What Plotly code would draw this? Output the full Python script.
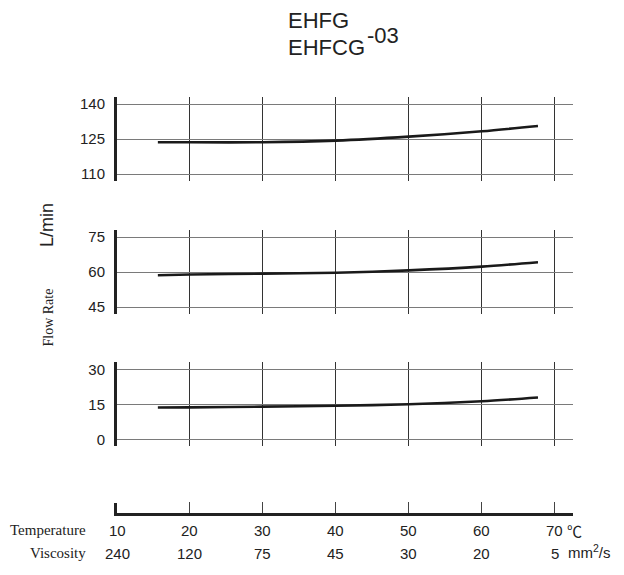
import plotly.graph_objects as go

# ---- data ----
temp_c = [15.6, 20, 30, 40, 50, 60, 67.7]
flow_top = [123.6, 123.6, 123.6, 124.3, 126.0, 128.3, 130.6]
flow_mid = [58.6, 58.9, 59.3, 59.7, 60.7, 62.3, 64.2]
flow_bot = [13.6, 13.7, 14.0, 14.4, 15.0, 16.3, 17.9]

temp_ticks = [10, 20, 30, 40, 50, 60, 70]
temp_labels = ["10", "20", "30", "40", "50", "60", "70"]
visc_labels = ["240", "120", "75", "45", "30", "20", "5"]
grid_x = [20, 30, 40, 50, 60, 70]

y_top_ticks = [110, 125, 140]
y_mid_ticks = [45, 60, 75]
y_bot_ticks = [0, 15, 30]

OFF = 8  # page body margin
W, H = 624 - OFF, 575 - OFF
X0, X1 = 117, 573


def px(x):
    return (x - OFF) / W


def py(y):
    return 1 - (y - OFF) / H


fig = go.Figure()
curve = dict(color="#1a1a1a", width=2.6, shape="spline", smoothing=0.8)
fig.add_trace(go.Scatter(x=temp_c, y=flow_top, mode="lines", line=curve, xaxis="x", yaxis="y", showlegend=False))
fig.add_trace(go.Scatter(x=temp_c, y=flow_mid, mode="lines", line=curve, xaxis="x2", yaxis="y2", showlegend=False))
fig.add_trace(go.Scatter(x=temp_c, y=flow_bot, mode="lines", line=curve, xaxis="x3", yaxis="y3", showlegend=False))
fig.add_trace(go.Scatter(x=[None], y=[None], mode="lines", xaxis="x4", yaxis="y4", showlegend=False,
                         hoverinfo="skip"))

xr = [10, 72.5]
xdom = [px(X0), px(X1)]
xcommon = dict(domain=xdom, range=xr, tickvals=grid_x, showgrid=True, gridcolor="#333", gridwidth=1,
               showticklabels=False, showline=False, zeroline=False, ticks="", automargin=False)
ycommon = dict(showgrid=True, gridcolor="#7a7a7a", gridwidth=1, showline=True,
               linecolor="#222", linewidth=3, zeroline=False, ticks="", automargin=False,
               ticklabelstandoff=6, tickfont=dict(family="Liberation Sans, Arial", size=15, color="#222"))

fig.update_layout(
    template="none",
    width=W, height=H, margin=dict(l=0, r=0, t=0, b=0, pad=0),
    paper_bgcolor="white", plot_bgcolor="white", showlegend=False,
    xaxis=dict(anchor="y", **xcommon),
    xaxis2=dict(anchor="y2", **xcommon),
    xaxis3=dict(anchor="y3", **xcommon),
    xaxis4=dict(anchor="y4", domain=xdom, range=xr, tickvals=grid_x, showgrid=False, showticklabels=False,
                showline=True, linecolor="#222", linewidth=3, zeroline=False, automargin=False,
                ticks="inside", ticklen=11, tickwidth=1, tickcolor="#444"),
    yaxis=dict(domain=[py(181), py(97)], range=[107, 143], tickvals=y_top_ticks, **ycommon),
    yaxis2=dict(domain=[py(314), py(230)], range=[42, 78], tickvals=y_mid_ticks, **ycommon),
    yaxis3=dict(domain=[py(446.3), py(362.3)], range=[-3, 33], tickvals=y_bot_ticks, **ycommon),
    yaxis4=dict(domain=[py(513), py(503)], range=[0, 1], showgrid=False, showticklabels=False,
                showline=True, linecolor="#222", linewidth=3, zeroline=False, ticks="", automargin=False),
)

sans = "Liberation Sans, Arial"
serif = "Liberation Serif, Times New Roman"
ink = "#222"
ann = []
# title
ann.append(dict(text="EHFG", x=px(286), y=py(21), xanchor="left",
                font=dict(family=sans, size=22, color=ink)))
ann.append(dict(text="EHFCG", x=px(286), y=py(47), xanchor="left",
                font=dict(family=sans, size=22, color=ink)))
ann.append(dict(text="-03", x=px(365), y=py(35), xanchor="left",
                font=dict(family=sans, size=22, color=ink)))
# y labels
ann.append(dict(text="L/min", x=px(47), y=py(225), textangle=-90, xanchor="center",
                font=dict(family=sans, size=18, color=ink)))
ann.append(dict(text="Flow Rate", x=px(47.5), y=py(318), textangle=-90, xanchor="center",
                font=dict(family=serif, size=14, color=ink)))
# bottom labels
ann.append(dict(text="Temperature", x=px(88), y=py(530), xanchor="right",
                font=dict(family=serif, size=15, color=ink)))
ann.append(dict(text="Viscosity", x=px(88), y=py(553), xanchor="right",
                font=dict(family=serif, size=15, color=ink)))
for a in ann:
    a.update(xref="paper", yref="paper", showarrow=False, yanchor="middle")
for t, tl, vl in zip(temp_ticks, temp_labels, visc_labels):
    ann.append(dict(text=tl, x=t, y=py(530), xref="x4", yref="paper", showarrow=False,
                    xanchor="center", yanchor="middle",
                    font=dict(family=sans, size=15, color=ink)))
    ann.append(dict(text=vl, x=t, y=py(553), xref="x4", yref="paper", showarrow=False,
                    xanchor="center", yanchor="middle",
                    font=dict(family=sans, size=15, color=ink)))
ann.append(dict(text="℃", x=px(565), y=py(530), xref="paper", yref="paper", xanchor="left", yanchor="middle",
                showarrow=False, font=dict(family="Noto Sans CJK JP", size=15, color=ink)))
ann.append(dict(text="mm<sup>2</sup>/s", x=px(566), y=py(551), xref="paper", yref="paper", xanchor="left",
                yanchor="middle", showarrow=False, font=dict(family=sans, size=15, color=ink)))
fig.update_layout(annotations=ann)

fig.write_html("out.html")
